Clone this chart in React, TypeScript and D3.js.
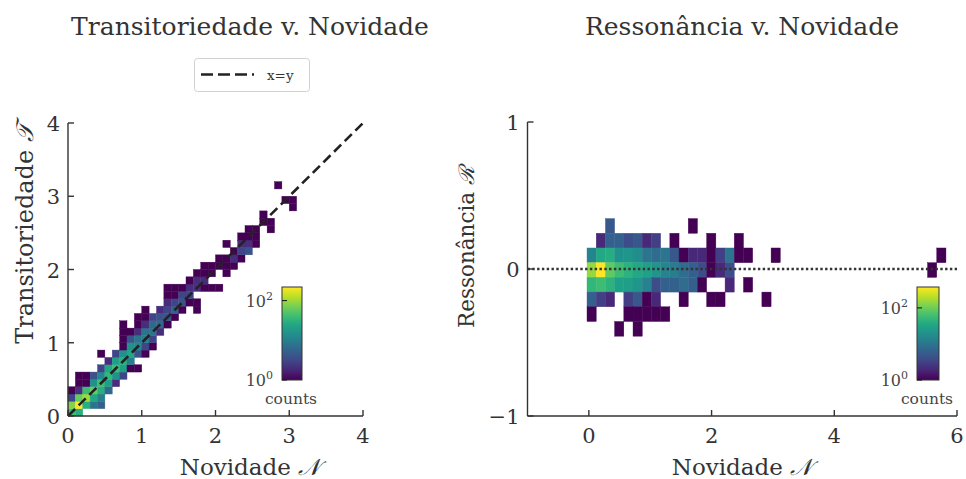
import React from 'react';
import * as d3 from 'd3';

const W = 966;
const H = 479;
const FONT = '"DejaVu Serif", serif';

// ---- left panel: Transitoriedade v. Novidade (2D histogram, bin 0.1 x 0.1)
const transBin = 0.1;
const transTicks = [0, 1, 2, 3, 4];
// [x bin index, y bin index, count]
const transCells: [number, number, number][] = [
  [0, 0, 40], [0, 1, 80], [0, 2, 3], [0, 3, 1],
  [1, 0, 30], [1, 1, 220], [1, 2, 60], [1, 3, 2], [1, 4, 1], [1, 5, 1],
  [2, 1, 30], [2, 2, 100], [2, 3, 40], [2, 4, 1], [2, 5, 1],
  [3, 1, 8], [3, 2, 25], [3, 3, 60], [3, 4, 15], [3, 5, 4],
  [4, 1, 5], [4, 2, 10], [4, 3, 30], [4, 4, 40], [4, 5, 12], [4, 6, 3], [4, 8, 1],
  [5, 3, 6], [5, 4, 20], [5, 5, 35], [5, 6, 25], [5, 7, 2],
  [6, 4, 2], [6, 5, 15], [6, 6, 40], [6, 7, 20], [6, 8, 3],
  [7, 5, 3], [7, 6, 20], [7, 7, 30], [7, 8, 15], [7, 9, 1], [7, 10, 1], [7, 11, 1], [7, 12, 1],
  [8, 6, 1], [8, 7, 10], [8, 8, 25], [8, 9, 15], [8, 10, 4], [8, 11, 1],
  [9, 6, 1], [9, 8, 4], [9, 9, 12], [9, 10, 8], [9, 11, 2], [9, 12, 1], [9, 13, 1],
  [10, 8, 1], [10, 9, 3], [10, 10, 10], [10, 11, 8], [10, 12, 2], [10, 13, 1], [10, 14, 1],
  [11, 9, 1], [11, 10, 3], [11, 11, 8], [11, 12, 6], [11, 13, 3],
  [12, 11, 2], [12, 12, 6], [12, 13, 4], [12, 14, 2],
  [13, 12, 1], [13, 13, 4], [13, 14, 3], [13, 15, 2], [13, 16, 1], [13, 17, 1],
  [14, 13, 1], [14, 14, 5], [14, 15, 3], [14, 16, 1], [14, 17, 1],
  [15, 14, 1], [15, 15, 4], [15, 16, 3], [15, 17, 1],
  [16, 15, 1], [16, 16, 3], [16, 17, 2], [16, 18, 1],
  [17, 14, 1], [17, 15, 1], [17, 17, 2], [17, 18, 2], [17, 19, 1],
  [18, 17, 1], [18, 18, 2], [18, 19, 1], [18, 20, 1],
  [19, 17, 1], [19, 19, 1], [19, 20, 1],
  [20, 17, 1], [20, 20, 1], [20, 21, 1],
  [21, 19, 1], [21, 20, 1], [21, 21, 1], [21, 23, 1],
  [22, 20, 1], [22, 21, 2], [22, 22, 1],
  [23, 21, 1], [23, 22, 3], [23, 23, 2], [23, 24, 1],
  [24, 22, 4], [24, 23, 2], [24, 24, 1], [24, 25, 1],
  [25, 23, 1], [25, 24, 1], [25, 25, 1],
  [26, 26, 1], [26, 27, 1],
  [27, 25, 1], [27, 26, 1],
  [28, 31, 1],
  [29, 29, 1],
  [30, 28, 1], [30, 29, 1],
];

// ---- right panel: Ressonância v. Novidade (bins 0.15 x 0.1)
const resBinX = 0.15;
const resX0 = -0.03;
const resBinY = 0.1;
const resY0 = 0.043; // row k covers [resY0 + k*bin, resY0 + (k+1)*bin]
const resXTicks = [0, 2, 4, 6];
const resYTicks = [-1, 0, 1];
const resCells: [number, number, number][] = [
  [2, 2, 5], [11, 2, 1],
  [1, 1, 2], [2, 1, 6], [3, 1, 6], [4, 1, 4], [5, 1, 5], [6, 1, 2], [7, 1, 3], [9, 1, 1], [13, 1, 1], [16, 1, 1],
  [0, 0, 15], [1, 0, 35], [2, 0, 40], [3, 0, 20], [4, 0, 22], [5, 0, 18], [6, 0, 10], [7, 0, 8], [8, 0, 10],
  [9, 0, 5], [10, 0, 1], [11, 0, 2], [12, 0, 2], [13, 0, 1], [14, 0, 3], [15, 0, 10], [16, 0, 1], [17, 0, 1],
  [20, 0, 1], [38, 0, 1],
  [0, -1, 150], [1, -1, 380], [2, -1, 90], [3, -1, 60], [4, -1, 45], [5, -1, 35], [6, -1, 30], [7, -1, 22],
  [8, -1, 15], [9, -1, 12], [10, -1, 8], [11, -1, 6], [12, -1, 4], [13, -1, 1], [14, -1, 2], [15, -1, 4], [37, -1, 1],
  [0, -2, 50], [1, -2, 60], [2, -2, 45], [3, -2, 30], [4, -2, 28], [5, -2, 22], [6, -2, 14], [7, -2, 4],
  [8, -2, 6], [9, -2, 6], [10, -2, 8], [11, -2, 6], [12, -2, 1], [15, -2, 2], [17, -2, 1],
  [0, -3, 6], [1, -3, 3], [2, -3, 2], [4, -3, 3], [5, -3, 5], [6, -3, 1], [7, -3, 2], [10, -3, 1],
  [13, -3, 1], [14, -3, 1], [19, -3, 1],
  [0, -4, 1], [4, -4, 1], [5, -4, 1], [6, -4, 1], [7, -4, 1], [8, -4, 1],
  [3, -5, 1], [5, -5, 1],
];

const cbarTicks = [1, 100];

function Colorbar({ x, y, w, h, vmax, id }: any) {
  const s = d3.scaleLog().domain([1, vmax]).range([y + h, y]);
  const stops = d3.range(0, 1.0001, 0.1);
  return (
    <g>
      <defs>
        <linearGradient id={id} x1="0" y1="1" x2="0" y2="0">
          {stops.map(t => (
            <stop key={t} offset={t} stopColor={d3.interpolateViridis(t)} />
          ))}
        </linearGradient>
      </defs>
      <rect x={x} y={y} width={w} height={h} fill={`url(#${id})`} stroke="#333" strokeWidth={1} />
      {cbarTicks.map(t => (
        <g key={t}>
          <line x1={x} x2={x + 5} y1={s(t)} y2={s(t)} stroke="#111" strokeWidth={1} />
          <text x={x - 9} y={s(t) + 6} textAnchor="end" fontSize={16} fontFamily={FONT} fill="#444">
            10<tspan dy={-7} fontSize={11}>{Math.log10(t)}</tspan>
          </text>
        </g>
      ))}
      <text x={x + w / 2 - 1} y={y + h + 24} textAnchor="middle" fontSize={15.5} fontFamily={FONT} fill="#444">counts</text>
    </g>
  );
}

function Axes({ x, y, xTicks, yTicks, fmt }: any) {
  const [x0, x1] = x.range();
  const [y0, y1] = y.range();
  return (
    <g fontFamily={FONT} fill="#333">
      <line x1={x0} x2={x0} y1={y0} y2={y1} stroke="#333" strokeWidth={1.4} />
      <line x1={x0} x2={x1} y1={y0} y2={y0} stroke="#333" strokeWidth={1.4} />
      {xTicks.map((t: number) => (
        <g key={'x' + t}>
          <line x1={x(t)} x2={x(t)} y1={y0} y2={y0 - 6} stroke="#333" strokeWidth={1.4} />
          <text x={x(t)} y={y0 + 27} textAnchor="middle" fontSize={21}>{fmt(t)}</text>
        </g>
      ))}
      {yTicks.map((t: number) => (
        <g key={'y' + t}>
          <line x1={x0} x2={x0 + 6} y1={y(t)} y2={y(t)} stroke="#333" strokeWidth={1.4} />
          <text x={x0 - 8} y={y(t) + 8} textAnchor="end" fontSize={21}>{fmt(t)}</text>
        </g>
      ))}
    </g>
  );
}

export default function App() {
  const fmt = (t: number) => (t < 0 ? '\u2212' + Math.abs(t) : String(t));

  const xL = d3.scaleLinear().domain([0, 4]).range([68, 363]);
  const yL = d3.scaleLinear().domain([0, 4]).range([416, 123]);
  const maxL = d3.max(transCells, d => d[2]) as number;
  const colL = d3.scaleSequentialLog(d3.interpolateViridis).domain([1, maxL]);

  const xR = d3.scaleLinear().domain([-1, 6]).range([527.5, 957]);
  const yR = d3.scaleLinear().domain([-1, 1]).range([416, 122]);
  const maxR = d3.max(resCells, d => d[2]) as number;
  const colR = d3.scaleSequentialLog(d3.interpolateViridis).domain([1, maxR]);

  return (
    <div style={{ position: 'absolute', left: 0, top: 0 }}>
      <svg width={W} height={H} style={{ display: 'block', background: '#fff' }}>
        {/* left panel */}
        <text x={250} y={35} textAnchor="middle" fontSize={25} fontFamily={FONT} fill="#333">Transitoriedade v. Novidade</text>
        <g>
          {transCells.map(([i, j, c]) => {
            const x0 = xL(i * transBin), x1 = xL((i + 1) * transBin);
            const y0 = yL((j + 1) * transBin), y1 = yL(j * transBin);
            return <rect key={i + '_' + j} x={x0} y={y0} width={x1 - x0} height={y1 - y0} fill={colL(c)} stroke={colL(c)} strokeWidth={0.4} />;
          })}
        </g>
        <line x1={xL(0)} y1={yL(0)} x2={xL(4)} y2={yL(4)} stroke="#222" strokeWidth={2.6} strokeDasharray="10,5" />
        <Axes x={xL} y={yL} xTicks={transTicks} yTicks={transTicks} fmt={fmt} />
        <text transform={`translate(33,234) rotate(-90)`} textAnchor="middle" fontSize={24} fontFamily={FONT} fill="#333">
          Transitoriedade  <tspan fontStyle="italic">𝒯</tspan>
        </text>
        <text x={250} y={475} textAnchor="middle" fontSize={23} fontFamily={FONT} fill="#333">
          Novidade <tspan fontStyle="italic">𝒩</tspan>
        </text>
        <Colorbar x={282} y={287} w={20} h={93} vmax={maxL} id="cbL" />
        {/* legend */}
        <rect x={194.5} y={58.5} width={115} height={33} rx={3} fill="#fff" stroke="#d0d0d0" strokeWidth={1} />
        <line x1={201} x2={254} y1={74.5} y2={74.5} stroke="#222" strokeWidth={2.6} strokeDasharray="12,5" />
        <text x={267} y={80} fontSize={13.5} fontFamily={FONT} fill="#333">x=y</text>

        {/* right panel */}
        <text x={742} y={35} textAnchor="middle" fontSize={25} fontFamily={FONT} fill="#333">Ressonância v. Novidade</text>
        <g>
          {resCells.map(([m, k, c]) => {
            const x0 = xR(resX0 + m * resBinX), x1 = xR(resX0 + (m + 1) * resBinX);
            const y0 = yR(resY0 + (k + 1) * resBinY), y1 = yR(resY0 + k * resBinY);
            return <rect key={m + '_' + k} x={x0} y={y0} width={x1 - x0} height={y1 - y0} fill={colR(c)} stroke={colR(c)} strokeWidth={0.4} />;
          })}
        </g>
        <line x1={xR(-1)} x2={xR(6)} y1={yR(0)} y2={yR(0)} stroke="#333" strokeWidth={2.6} strokeDasharray="2.4,2.4" />
        <Axes x={xR} y={yR} xTicks={resXTicks} yTicks={resYTicks} fmt={fmt} />
        <text transform={`translate(474,247) rotate(-90)`} textAnchor="middle" fontSize={21.5} fontFamily={FONT} fill="#333">
          Ressonância <tspan fontStyle="italic">ℛ</tspan>
        </text>
        <text x={742} y={475} textAnchor="middle" fontSize={23} fontFamily={FONT} fill="#333">
          Novidade <tspan fontStyle="italic">𝒩</tspan>
        </text>
        <Colorbar x={917} y={287} w={22} h={93} vmax={maxR} id="cbR" />
      </svg>
    </div>
  );
}
